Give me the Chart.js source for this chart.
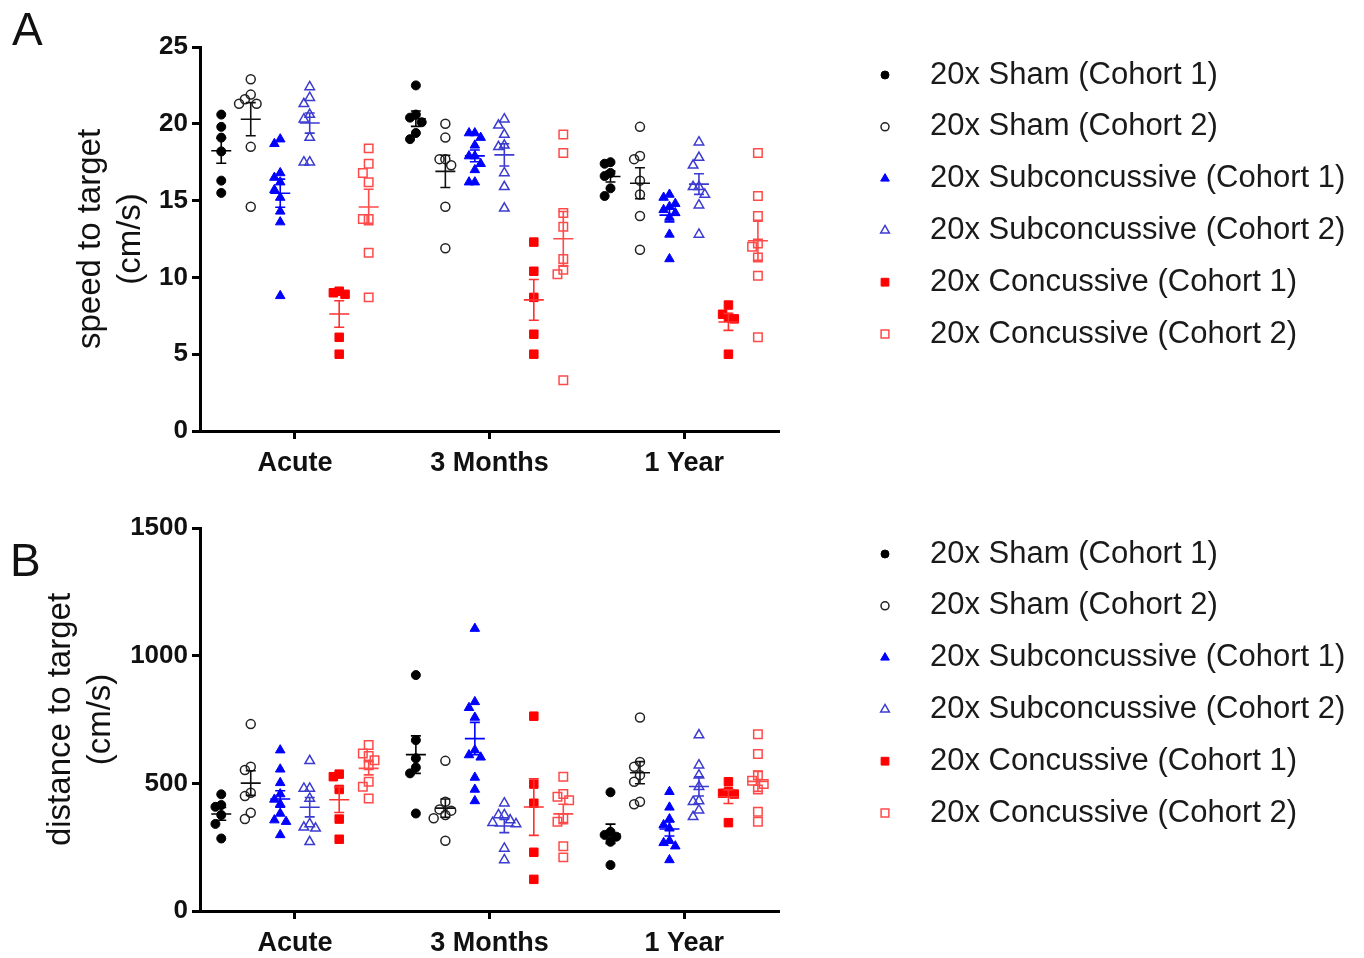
<!DOCTYPE html>
<html>
<head>
<meta charset="utf-8">
<script src="https://cdn.jsdelivr.net/npm/chart.js@4.4.1/dist/chart.umd.min.js"></script>
<style>
  body { margin: 0; background: #fff; }
  #wrap { position: relative; width: 1364px; height: 958px; }
  .panel { position: absolute; left: 0; width: 1364px; height: 479px; }
  .tag { position: absolute; font: 46px/1 'Liberation Sans', Arial, sans-serif; color: #111; }
</style>
</head>
<body>
<div id="wrap">
  <div class="panel" style="top:0"><canvas id="chart-speed"></canvas></div>
  <div class="panel" style="top:479px"><canvas id="chart-distance"></canvas></div>
  <div class="tag" style="left:12px;top:6px">A</div>
  <div class="tag" style="left:10px;top:537px">B</div>
</div>
<script>
(function () {
  'use strict';

  const groups = ['Acute', '3 Months', '1 Year'];
  const seriesNames = [
    '20x Sham (Cohort 1)', '20x Sham (Cohort 2)',
    '20x Subconcussive (Cohort 1)', '20x Subconcussive (Cohort 2)',
    '20x Concussive (Cohort 1)', '20x Concussive (Cohort 2)'
  ];

  // speed to target (cm/s), one list per time point
  const speedSham1 = [[20.6, 19.8, 19.1, 18.2, 16.3, 15.5], [22.5, 20.6, 20.4, 20.1, 19.4, 19.0], [17.5, 17.4, 16.8, 16.6, 15.8, 15.3]];
  const speedSham2 = [[22.9, 21.9, 21.6, 21.3, 21.3, 18.5, 14.6], [20.0, 19.1, 17.7, 17.7, 17.3, 14.6, 11.9], [19.8, 17.9, 17.7, 16.3, 15.4, 14.0, 11.8]];
  const speedSub1 = [[19.0, 18.7, 16.8, 16.5, 16.2, 15.7, 15.2, 14.3, 13.6, 8.8], [19.4, 19.4, 19.1, 18.6, 17.9, 17.9, 17.4, 17.0, 16.2, 16.2], [15.4, 15.2, 14.8, 14.6, 14.4, 14.2, 13.9, 12.8, 11.2]];
  const speedSub2 = [[22.4, 21.7, 21.3, 20.6, 20.3, 19.1, 17.5, 17.5], [20.3, 19.9, 19.3, 18.6, 18.5, 16.8, 15.9, 14.5], [18.8, 17.8, 17.3, 15.9, 15.9, 15.4, 14.7, 12.8]];
  const speedConc1 = [[9.1, 9.0, 8.9, 6.1, 5.0], [12.3, 10.4, 8.7, 6.3, 5.0], [8.2, 7.6, 7.4, 7.3, 5.0]];
  const speedConc2 = [[18.4, 17.4, 16.8, 16.2, 13.8, 13.8, 11.6, 8.7], [19.3, 18.1, 14.2, 13.3, 11.2, 10.5, 10.2, 3.3], [18.1, 15.3, 14.0, 12.2, 12.0, 11.3, 10.1, 6.1]];

  // distance to target
  const distSham1 = [[457, 415, 408, 376, 341, 284], [924, 669, 598, 562, 539, 382], [465, 310, 298, 291, 271, 180]];
  const distSham2 = [[732, 565, 552, 463, 450, 385, 360], [588, 428, 398, 393, 376, 363, 275], [758, 584, 565, 532, 506, 428, 418]];
  const distSub1 = [[630, 555, 502, 458, 437, 419, 382, 356, 350, 298], [1106, 819, 796, 758, 630, 611, 602, 523, 476, 431], [467, 406, 360, 337, 324, 275, 267, 254, 200]];
  const distSub2 = [[588, 480, 480, 441, 341, 328, 324, 271], [422, 376, 376, 356, 346, 341, 245, 200], [689, 571, 532, 487, 431, 428, 395, 369]];
  const distConc1 = [[536, 526, 476, 360, 281], [763, 497, 422, 230, 124], [506, 467, 461, 458, 346]];
  const distConc2 = [[650, 617, 607, 590, 571, 506, 487, 441], [526, 458, 447, 434, 363, 350, 254, 210], [692, 615, 532, 510, 497, 476, 389, 350]];

  const speedTicks = [0, 5, 10, 15, 20, 25];
  const distTicks = [0, 500, 1000, 1500];

  const styles = [
    { pointStyle: 'circle', bg: '#000000', border: '#000000', width: 1, radius: 4.5, legendRadius: 4, bar: '#000000' },
    { pointStyle: 'circle', bg: 'rgba(0,0,0,0)', border: '#222222', width: 1.5, radius: 4.5, legendRadius: 4, bar: '#111111' },
    { pointStyle: 'triangle', bg: '#0000ff', border: '#0000ff', width: 1, radius: 5.5, legendRadius: 5, bar: '#0000ff' },
    { pointStyle: 'triangle', bg: 'rgba(0,0,0,0)', border: '#3b3bd0', width: 1.5, radius: 5.5, legendRadius: 5, bar: '#3b3bd0' },
    { pointStyle: 'rect', bg: '#ff0000', border: '#ff0000', width: 1, radius: 6, legendRadius: 5.5, bar: '#ff3030' },
    { pointStyle: 'rect', bg: 'rgba(0,0,0,0)', border: '#ff4a4a', width: 1.5, radius: 6, legendRadius: 5.5, bar: '#ff4a4a' }
  ];

  const colStep = 0.1515;     // spacing of the six columns inside a group
  const colOffset = si => (si - 2.5) * colStep;

  // simple beeswarm: push a point sideways when it would sit on top of one already placed
  function swarm(values, range) {
    const thr = range * 0.024, step = 0.03, placed = [];
    return values.map(v => {
      for (const k of [0, -1, 1, -2, 2, -3, 3]) {
        const o = k * step;
        if (!placed.some(p => Math.abs(p.o - o) < step * 0.9 && Math.abs(p.v - v) < thr)) {
          placed.push({ o, v });
          return o;
        }
      }
      return 0;
    });
  }

  function buildDatasets(series, range) {
    return series.map((perGroup, si) => {
      const st = styles[si];
      const pts = [];
      perGroup.forEach((vals, gi) => {
        const offs = swarm(vals, range);
        vals.forEach((v, i) => pts.push({ x: gi + colOffset(si) + offs[i], y: v }));
      });
      return {
        label: seriesNames[si],
        data: pts,
        groupsRaw: perGroup,
        barColor: st.bar,
        legendRadius: st.legendRadius,
        pointStyle: st.pointStyle,
        backgroundColor: st.bg,
        borderColor: st.border,
        pointBorderWidth: st.width,
        pointRadius: st.radius,
        pointHoverRadius: st.radius,
        showLine: false
      };
    });
  }

  const meanSem = {
    id: 'meanSem',
    afterDatasetsDraw(chart) {
      const { ctx, scales: { x, y } } = chart;
      chart.data.datasets.forEach((ds, si) => {
        ds.groupsRaw.forEach((vals, gi) => {
          const n = vals.length;
          const m = vals.reduce((a, b) => a + b, 0) / n;
          const sd = Math.sqrt(vals.reduce((a, b) => a + (b - m) * (b - m), 0) / (n - 1));
          const sem = sd / Math.sqrt(n);
          const cx = x.getPixelForValue(gi + colOffset(si));
          const ym = y.getPixelForValue(m), yt = y.getPixelForValue(m + sem), yb = y.getPixelForValue(m - sem);
          ctx.save();
          ctx.strokeStyle = ds.barColor;
          ctx.lineWidth = 1.6;
          ctx.beginPath();
          ctx.moveTo(cx - 10, ym); ctx.lineTo(cx + 10, ym);
          ctx.moveTo(cx, yt); ctx.lineTo(cx, yb);
          ctx.moveTo(cx - 5, yt); ctx.lineTo(cx + 5, yt);
          ctx.moveTo(cx - 5, yb); ctx.lineTo(cx + 5, yb);
          ctx.stroke();
          ctx.restore();
        });
      });
    }
  };

  const sideLegend = {
    id: 'sideLegend',
    afterDraw(chart, args, opts) {
      const ctx = chart.ctx;
      chart.data.datasets.forEach((ds, i) => {
        const y = opts.top + i * opts.spacing;
        ctx.save();
        ctx.fillStyle = ds.backgroundColor;
        ctx.strokeStyle = ds.borderColor;
        ctx.lineWidth = ds.pointBorderWidth;
        Chart.helpers.drawPoint(ctx, { pointStyle: ds.pointStyle, radius: ds.legendRadius, borderWidth: ds.pointBorderWidth, rotation: 0 }, opts.markerX, y);
        ctx.fillStyle = '#1a1a1a';
        ctx.font = opts.font;
        ctx.textBaseline = 'middle';
        ctx.textAlign = 'left';
        ctx.fillText(ds.label, opts.textX, y);
        ctx.restore();
      });
    }
  };

  Chart.defaults.font.family = "'Liberation Sans', Arial, sans-serif";
  Chart.defaults.color = '#111';

  function makeChart(id, series, ticks, title, topPad, xHeight, titlePad) {
    const max = ticks[ticks.length - 1];
    return new Chart(document.getElementById(id), {
      type: 'scatter',
      data: { datasets: buildDatasets(series, max) },
      plugins: [meanSem, sideLegend],
      options: {
        responsive: true,
        maintainAspectRatio: false,
        animation: false,
        layout: { padding: { left: 0, top: topPad, right: 586, bottom: 0 } },
        plugins: {
          legend: { display: false },
          tooltip: { enabled: false },
          sideLegend: { markerX: 885, textX: 930, top: 75, spacing: 51.8, font: "31px 'Liberation Sans', Arial, sans-serif" }
        },
        scales: {
          x: {
            type: 'linear',
            min: -0.488,
            max: 2.482,
            afterBuildTicks: s => { s.ticks = groups.map((g, i) => ({ value: i })); },
            afterFit: s => { s.height = xHeight; },
            ticks: { callback: (v, i) => groups[i], font: { size: 27, weight: 'bold' }, color: '#111', padding: 8, maxRotation: 0, autoSkip: false },
            grid: { drawOnChartArea: false, drawTicks: true, tickLength: 8, color: '#000', lineWidth: 3 },
            border: { display: true, color: '#000', width: 3 }
          },
          y: {
            min: 0,
            max: max,
            afterBuildTicks: s => { s.ticks = ticks.map(v => ({ value: v })); },
            afterFit: s => { s.width = 200; },
            ticks: { callback: v => String(v), font: { size: 26, weight: 'bold' }, color: '#111', padding: 4 },
            grid: { drawOnChartArea: false, drawTicks: true, tickLength: 8, color: '#000', lineWidth: 3 },
            border: { display: true, color: '#000', width: 3 },
            title: { display: true, text: title, color: '#111', font: { size: 33, lineHeight: '40px' }, padding: { top: titlePad, bottom: 0 } }
          }
        }
      }
    });
  }

  makeChart('chart-speed', [speedSham1, speedSham2, speedSub1, speedSub2, speedConc1, speedConc2],
    speedTicks, ['speed to target', '(cm/s)'], 47, 48, 71);
  makeChart('chart-distance', [distSham1, distSham2, distSub1, distSub2, distConc1, distConc2],
    distTicks, ['distance to target', '(cm/s)'], 49, 47, 41);
})();
</script>
</body>
</html>
